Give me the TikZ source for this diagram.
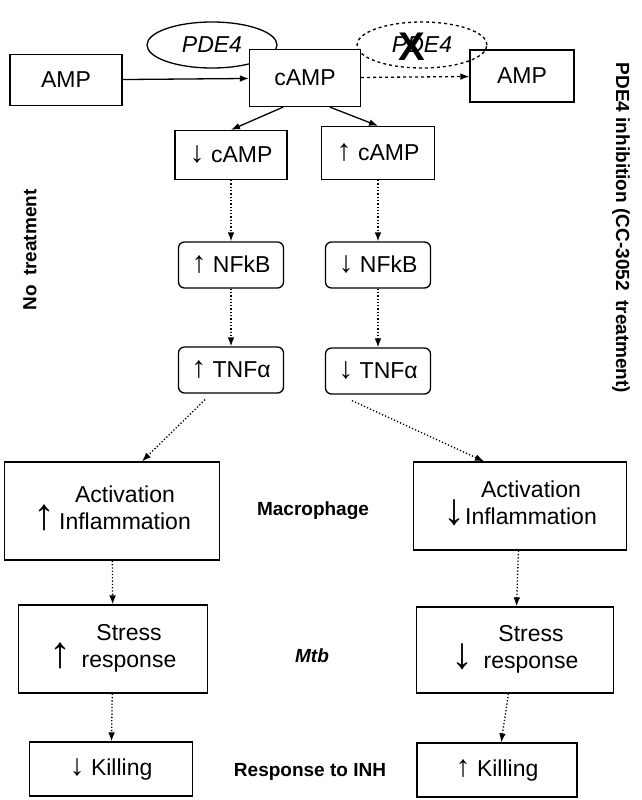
\documentclass[tikz,border=0pt]{standalone}
\usepackage{fontspec}
\setmainfont{Liberation Sans}
\usepackage{tikz}
\usetikzlibrary{arrows.meta, shapes.geometric, calc}
\newcommand{\bigup}{{\fontsize{30}{30}\selectfont↑}}
\newcommand{\bigdn}{{\fontsize{30}{30}\selectfont↓}}
\newcommand{\hugeup}{{\fontsize{44}{44}\selectfont↑}}
\newcommand{\hugedn}{{\fontsize{44}{44}\selectfont↓}}
\tikzset{
  box/.style={draw, line width=1.3pt, align=center, font=\fontsize{23}{27}\selectfont},
  rbox/.style={box, rounded corners=6pt, minimum width=105pt, minimum height=46pt},
  enz/.style={draw, line width=1.3pt, ellipse, minimum width=130pt, minimum height=46pt, font=\fontsize{23}{27}\selectfont\itshape},
  lab/.style={font=\fontsize{19}{21}\selectfont\bfseries},
  solidarr/.style={-{Latex[length=9pt]}, line width=1.3pt},
  dotarr/.style={-{Latex[length=9pt]}, line width=1.3pt, dotted},
  dasharr/.style={-{Latex[length=9pt]}, line width=1.3pt, dashed}
}
\begin{document}
\begin{tikzpicture}[x=1pt, y=-1pt]
  \useasboundingbox (0, 0) rectangle (641, 800);

  % top reaction
  \node[enz] (pdeA) at (212, 45) {PDE4};
  \node[enz, dashed] (pdeB) at (422, 45) {PDE4};
  \node[font=\fontsize{40}{40}\selectfont\bfseries] (cross) at (412, 47) {X};
  \node[box, minimum width=112pt, minimum height=51pt] (amp) at (66, 80) {AMP};
  \node[box, minimum width=111pt, minimum height=57pt, fill=white] (camp) at (305, 78) {cAMP};
  \node[box, minimum width=104pt, minimum height=52pt] (ampR) at (522, 76) {AMP};
  \draw[solidarr] (amp) -- (camp);
  \draw[dasharr] (camp) -- (ampR);

  % left branch (no treatment)
  \node[box, minimum width=112pt, minimum height=49pt] (campL) at (231, 155) {\bigdn\ cAMP};
  \node[rbox] (nfL) at (231, 265) {\bigup\ NFkB};
  \node[rbox] (tnfL) at (231, 370) {\bigup\ TNFα};
  \node[box, minimum width=215pt, minimum height=98pt] (actL) at (112, 511)
    {\hugeup\hspace{4pt}\raisebox{12pt}{\begin{tabular}{@{}c@{}}Activation\\Inflammation\end{tabular}}};
  \node[box, minimum width=189pt, minimum height=88pt] (strL) at (113, 649)
    {\hugeup\hspace{10pt}\raisebox{12pt}{\begin{tabular}{@{}c@{}}Stress\\response\end{tabular}}};
  \node[box, minimum width=163pt, minimum height=54pt] (kilL) at (111, 769) {\bigdn\ Killing};

  % right branch (PDE4 inhibition)
  \node[box, minimum width=113pt, minimum height=53pt] (campR) at (378, 153) {\bigup\ cAMP};
  \node[rbox] (nfR) at (378, 265) {\bigdn\ NFkB};
  \node[rbox] (tnfR) at (378, 371) {\bigdn\ TNFα};
  \node[box, minimum width=213pt, minimum height=88pt] (actR) at (520, 506)
    {\hugedn\raisebox{12pt}{\begin{tabular}{@{}c@{}}Activation\\Inflammation\end{tabular}}};
  \node[box, minimum width=197pt, minimum height=86pt] (strR) at (515, 650)
    {\hugedn\hspace{10pt}\raisebox{12pt}{\begin{tabular}{@{}c@{}}Stress\\response\end{tabular}}};
  \node[box, minimum width=160pt, minimum height=54pt] (kilR) at (497, 770) {\bigup\ Killing};

  % connectors
  \draw[solidarr] ($(camp.south) + (-22, 0)$) -- (campL.north);
  \draw[solidarr] ($(camp.south) + (25, 0)$) -- (campR.north);
  \foreach \a/\b in {campL/nfL, nfL/tnfL, campR/nfR, nfR/tnfR, actL/strL, strL/kilL, actR/strR, strR/kilR}
    \draw[dotarr] (\a) -- (\b);
  \draw[dotarr] ($(tnfL.south) + (-26, 6)$) -- ($(actL.north) + (30, 0)$);
  \draw[dotarr] ($(tnfR.south) + (-26, 6)$) -- ($(actR.north) + (-36, 0)$);

  % labels
  \node[lab] (mac) at (313, 511) {Macrophage};
  \node[lab, font=\fontsize{19}{21}\selectfont\bfseries\itshape] (mtb) at (312, 656) {Mtb};
  \node[lab] (inh) at (310, 772) {Response to INH};
  \node[lab, rotate=90] (none) at (30, 250) {No\hspace{0.5em}treatment};
  \node[lab, rotate=-90] (pdeinh) at (621, 228) {PDE4 inhibition (CC-3052\hspace{0.5em}treatment)};
\end{tikzpicture}
\end{document}
